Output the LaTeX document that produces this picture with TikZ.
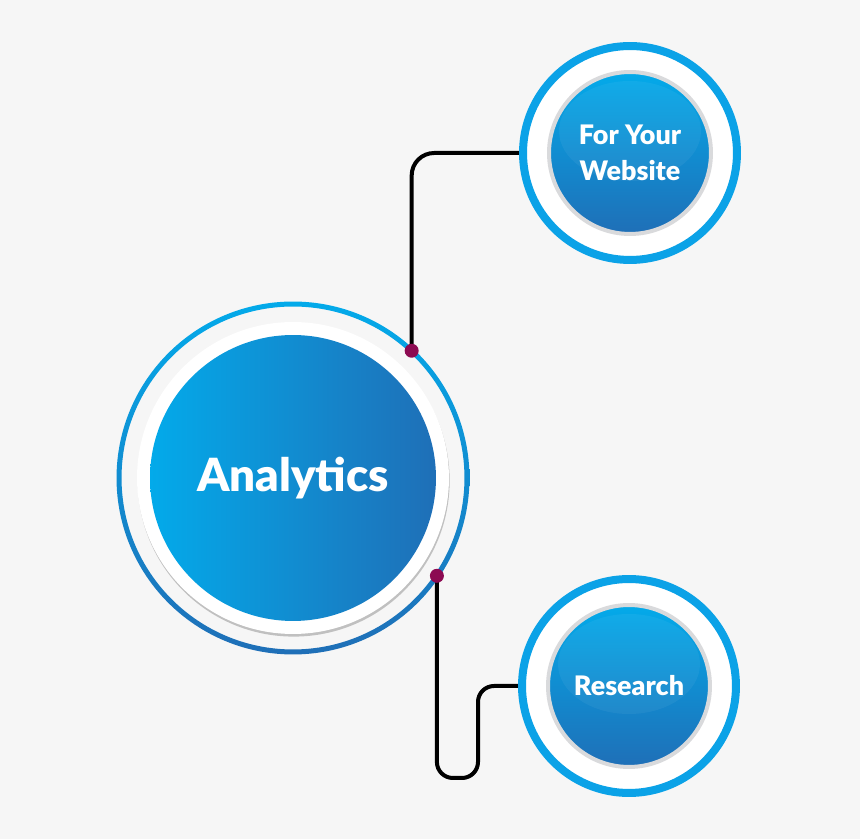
\documentclass[tikz,border=0pt]{standalone}
\usepackage{fontspec}
\setmainfont{Lato}[BoldFont={Lato Black}]
\usepackage{xcolor}
\usepackage{tikz}
\usetikzlibrary{positioning,shadows,backgrounds,calc}

\definecolor{pagebg}{HTML}{F6F6F6}
\definecolor{skyblue}{HTML}{03AAEA}
\definecolor{deepblue}{HTML}{1F6FB7}
\definecolor{ringblue}{HTML}{0BA2E7}
\definecolor{rimgray}{HTML}{D9DADC}
\definecolor{dotred}{HTML}{8C0A52}

\begin{document}
\begin{tikzpicture}[x=0.02cm, y=0.02cm,
  hub/.style={circle, minimum size=5.72cm, inner sep=0pt, outer sep=0pt,
              left color=skyblue, right color=deepblue, text=white,
              font=\bfseries\fontsize{26}{30}\selectfont},
  halo/.style={circle, minimum size=6.24cm, inner sep=0pt, fill=white,
               drop shadow={shadow xshift=0.4pt, shadow yshift=-1.5pt, opacity=0.45}},
  leaf/.style={circle, minimum size=4.28cm, inner sep=0pt, outer sep=0pt,
               draw=ringblue, line width=0.16cm, fill=white},
  core/.style={circle, minimum size=3.24cm, inner sep=0pt, draw=rimgray,
               line width=0.08cm, top color=skyblue, bottom color=deepblue,
               text=white, align=center,
               font=\bfseries\fontsize{15.3}{20.4}\selectfont},
  link/.style={line width=0.08cm, rounded corners=0.45cm},
  dot/.style={fill=dotred}
]
  \useasboundingbox (0,0) rectangle (860,839);

  % main circle
  \node[halo] (halo) at (293,361) {};
  \node[hub] (ana) at (halo) {Analytics};
  \shade[top color=skyblue, bottom color=deepblue, even odd rule]
    (ana) circle (3.53cm) circle (3.43cm);

  % side circles
  \node[leaf] (web) at (630,686) {};
  \node[core] (webin) at (web) {For Your\\Website};
  \node[leaf] (res) at (629,153) {};
  \node[core] (resin) at (res) {Research};
  \fill[white, opacity=0.05] ($(webin)+(0,22)$) ellipse (1.42cm and 1.0cm);
  \fill[white, opacity=0.05] ($(resin)+(0,22)$) ellipse (1.42cm and 1.0cm);

  \coordinate (d1) at ($(ana)+(47:174)$);
  \coordinate (d2) at ($(ana)+(-34.2:174)$);
  \coordinate (u) at (478,61);

  \begin{pgfonlayer}{background}
    \fill[pagebg] (0,0) rectangle (860,839);
    \draw[link] (d1) |- (web.west);
    \draw[link, rounded corners=0.32cm] (d2) |- (u) |- (res.west);
  \end{pgfonlayer}

  \fill[dot] (d1) circle (0.14cm);
  \fill[dot] (d2) circle (0.14cm);
\end{tikzpicture}
\end{document}
